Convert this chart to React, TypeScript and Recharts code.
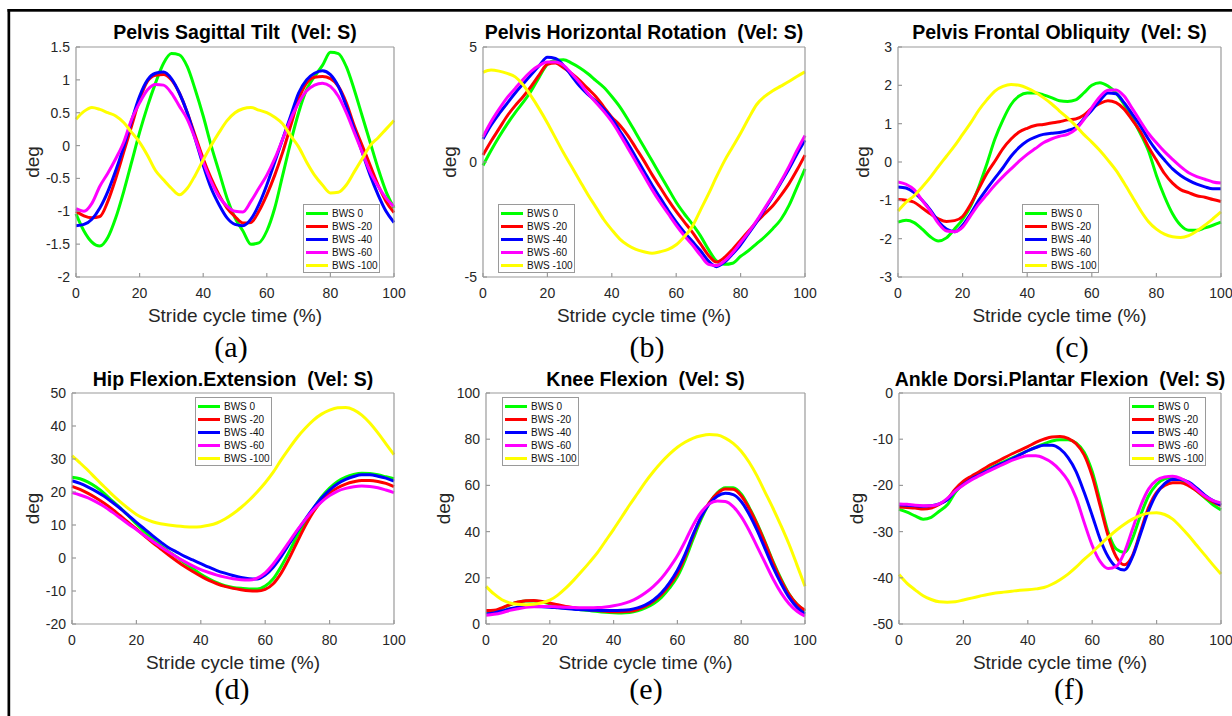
import React from 'react';
import { LineChart, Line, XAxis, YAxis, Legend } from 'recharts';

const X = [0,2.5,5,7.5,10,12.5,15,17.5,20,22.5,25,27.5,30,32.5,35,37.5,40,42.5,45,47.5,50,52.5,55,57.5,60,62.5,65,67.5,70,72.5,75,77.5,80,82.5,85,87.5,90,92.5,95,97.5,100];
const X_TICKS = [0, 20, 40, 60, 80, 100];
const SERIES_NAMES = ['BWS 0', 'BWS -20', 'BWS -40', 'BWS -60', 'BWS -100'];
const SERIES_COLORS = ['#00ff00', '#ff0000', '#0000ff', '#ff00ff', '#ffff00'];

// (a) Pelvis Sagittal Tilt
const tiltTicks = [-2, -1.5, -1, -0.5, 0, 0.5, 1, 1.5];
const tilt0 = [-1.04,-1.3,-1.47,-1.53,-1.4,-1.1,-0.7,-0.25,0.2,0.6,0.95,1.25,1.4,1.38,1.2,0.85,0.45,0.0,-0.4,-0.8,-1.1,-1.3,-1.5,-1.48,-1.3,-0.95,-0.45,0.05,0.5,0.85,1.05,1.22,1.42,1.4,1.2,0.85,0.45,0.05,-0.35,-0.7,-0.95];
const tilt20 = [-1.0,-1.07,-1.1,-1.08,-0.85,-0.5,-0.1,0.3,0.7,0.98,1.07,1.08,1.0,0.8,0.5,0.15,-0.2,-0.5,-0.75,-0.95,-1.08,-1.18,-1.17,-1.0,-0.75,-0.45,-0.1,0.3,0.7,0.95,1.04,1.05,1.02,0.9,0.65,0.3,0.0,-0.3,-0.6,-0.85,-1.02];
const tilt40 = [-1.22,-1.2,-1.12,-0.95,-0.7,-0.38,-0.02,0.38,0.75,1.0,1.1,1.12,1.02,0.8,0.5,0.1,-0.3,-0.65,-0.9,-1.1,-1.2,-1.22,-1.12,-0.9,-0.6,-0.25,0.1,0.45,0.8,1.0,1.1,1.14,1.08,0.9,0.6,0.25,-0.1,-0.45,-0.75,-1.0,-1.17];
const tilt60 = [-0.96,-1.0,-0.88,-0.62,-0.42,-0.2,0.05,0.4,0.65,0.85,0.93,0.92,0.8,0.6,0.4,0.1,-0.25,-0.55,-0.78,-0.92,-1.0,-1.01,-0.85,-0.65,-0.45,-0.2,0.1,0.4,0.65,0.83,0.92,0.95,0.9,0.75,0.5,0.2,-0.1,-0.4,-0.62,-0.8,-0.93];
const tilt100 = [0.4,0.52,0.58,0.55,0.5,0.45,0.35,0.2,0.05,-0.15,-0.38,-0.52,-0.65,-0.75,-0.65,-0.45,-0.22,0.0,0.2,0.38,0.5,0.56,0.58,0.54,0.5,0.43,0.33,0.15,-0.02,-0.25,-0.45,-0.6,-0.72,-0.71,-0.6,-0.4,-0.2,0.0,0.12,0.25,0.38];

// (b) Pelvis Horizontal Rotation
const rotTicks = [-5, 0, 5];
const rot0 = [-0.15,0.5,1.1,1.65,2.15,2.6,3.1,3.7,4.25,4.42,4.45,4.3,4.1,3.85,3.55,3.25,2.85,2.4,1.85,1.25,0.65,0.05,-0.55,-1.15,-1.75,-2.25,-2.7,-3.2,-3.8,-4.3,-4.45,-4.4,-4.1,-3.85,-3.55,-3.25,-2.9,-2.5,-1.9,-1.1,-0.3];
const rot20 = [0.3,0.9,1.45,2.0,2.45,2.85,3.3,3.8,4.25,4.3,4.1,3.85,3.55,3.2,2.85,2.4,1.95,1.6,1.15,0.6,0.05,-0.55,-1.1,-1.65,-2.15,-2.6,-3.05,-3.55,-4.05,-4.35,-4.15,-3.8,-3.4,-3.0,-2.6,-2.25,-1.9,-1.45,-0.95,-0.35,0.3];
const rot40 = [1.0,1.6,2.1,2.55,3.0,3.4,3.8,4.2,4.55,4.5,4.2,3.75,3.3,2.95,2.65,2.3,1.9,1.35,0.8,0.2,-0.4,-1.0,-1.55,-2.1,-2.6,-3.05,-3.45,-3.85,-4.3,-4.55,-4.35,-4.0,-3.6,-3.1,-2.6,-2.05,-1.5,-0.9,-0.3,0.35,0.95];
const rot60 = [1.1,1.75,2.3,2.8,3.2,3.6,3.95,4.2,4.35,4.35,4.2,3.85,3.45,3.0,2.6,2.2,1.75,1.2,0.6,0.0,-0.6,-1.2,-1.75,-2.25,-2.75,-3.2,-3.6,-4.05,-4.45,-4.5,-4.3,-3.95,-3.5,-3.05,-2.55,-2.0,-1.45,-0.85,-0.2,0.5,1.15];
const rot100 = [3.9,4.0,3.95,3.85,3.7,3.35,2.85,2.3,1.7,1.05,0.4,-0.2,-0.8,-1.4,-1.95,-2.5,-2.95,-3.35,-3.62,-3.8,-3.9,-3.97,-3.9,-3.8,-3.6,-3.25,-2.8,-2.1,-1.4,-0.65,0.05,0.65,1.25,1.9,2.5,2.85,3.1,3.3,3.5,3.72,3.92];

// (c) Pelvis Frontal Obliquity
const oblTicks = [-3, -2, -1, 0, 1, 2, 3];
const obl0 = [-1.57,-1.52,-1.58,-1.75,-1.95,-2.06,-1.98,-1.75,-1.5,-1.15,-0.65,-0.05,0.6,1.1,1.5,1.72,1.8,1.8,1.75,1.68,1.6,1.58,1.62,1.8,2.0,2.07,1.98,1.8,1.5,1.15,0.75,0.3,-0.35,-0.9,-1.35,-1.65,-1.78,-1.78,-1.72,-1.65,-1.57];
const obl20 = [-0.98,-1.0,-1.05,-1.2,-1.35,-1.48,-1.55,-1.53,-1.42,-1.1,-0.7,-0.3,0.02,0.35,0.6,0.78,0.88,0.95,0.98,1.02,1.05,1.1,1.12,1.22,1.4,1.53,1.6,1.55,1.38,1.1,0.8,0.4,0.05,-0.3,-0.55,-0.72,-0.8,-0.88,-0.92,-0.98,-1.03];
const obl40 = [-0.65,-0.68,-0.8,-1.0,-1.25,-1.55,-1.75,-1.82,-1.65,-1.35,-1.0,-0.7,-0.42,-0.15,0.15,0.38,0.55,0.65,0.72,0.75,0.77,0.82,0.9,1.12,1.35,1.6,1.8,1.78,1.55,1.25,0.95,0.6,0.3,0.05,-0.18,-0.35,-0.48,-0.58,-0.65,-0.7,-0.7];
const obl60 = [-0.52,-0.58,-0.72,-1.0,-1.28,-1.6,-1.8,-1.82,-1.7,-1.4,-1.1,-0.85,-0.6,-0.38,-0.18,0.02,0.2,0.35,0.5,0.6,0.67,0.72,0.85,1.1,1.42,1.7,1.87,1.88,1.72,1.4,1.07,0.75,0.5,0.27,0.07,-0.12,-0.28,-0.38,-0.45,-0.52,-0.55];
const obl100 = [-1.28,-1.05,-0.88,-0.65,-0.4,-0.12,0.15,0.42,0.72,1.02,1.35,1.62,1.85,1.97,2.02,2.0,1.93,1.82,1.68,1.52,1.33,1.15,0.95,0.72,0.52,0.3,0.05,-0.22,-0.55,-0.9,-1.25,-1.55,-1.75,-1.88,-1.95,-1.97,-1.92,-1.8,-1.65,-1.48,-1.3];

// (d) Hip Flexion.Extension
const hipTicks = [-20, -10, 0, 10, 20, 30, 40, 50];
const hip0 = [24.5,24,23,21.5,19.6,17.3,15.2,12.8,10.3,8,5.8,3.8,2,0.3,-1.5,-3.2,-4.9,-6.3,-7.5,-8.4,-8.9,-9.2,-9.4,-9.4,-8.5,-6.3,-2.5,2,6.8,11,15,18.5,21.2,23.2,24.5,25.3,25.7,25.6,25.2,24.6,24];
const hip20 = [21.7,20.8,19.6,18.2,16.6,14.8,12.8,10.8,8.8,6.7,4.7,2.8,0.9,-0.9,-2.6,-4.1,-5.5,-6.8,-7.8,-8.6,-9.2,-9.6,-9.9,-10,-9.5,-7.8,-4.5,0,5,9.8,14,17.3,19.7,21.3,22.4,23.1,23.5,23.5,23.2,22.6,21.6];
const hip40 = [23.4,22.6,21.5,20.2,18.7,16.9,15,12.9,10.8,8.8,6.8,4.9,3.1,1.8,0.5,-0.6,-1.7,-2.8,-3.8,-4.6,-5.3,-5.9,-6.3,-6.4,-5.2,-2.8,0.5,4.3,8.2,11.8,15.2,18.2,20.6,22.5,23.8,24.7,25.2,25.2,24.8,24.2,23.3];
const hip60 = [19.8,19.1,18.2,17,15.6,13.9,12.1,10.3,8.6,6.8,5.1,3.4,1.8,0.3,-1.1,-2.4,-3.5,-4.4,-5.2,-5.8,-6.3,-6.6,-6.7,-6.1,-4.5,-1.8,1.5,5,8.5,11.7,14.6,17,18.9,20.3,21.1,21.6,21.8,21.7,21.3,20.6,19.8];
const hip100 = [31,28.8,26.5,24,21.6,19.2,17,15,13.2,11.9,11,10.4,10,9.7,9.5,9.4,9.5,9.9,10.6,11.8,13.4,15.3,17.5,20,22.8,26,29.8,33.3,36.6,39.4,41.8,43.6,44.8,45.5,45.6,44.9,43.3,40.9,37.9,34.6,31.3];

// (e) Knee Flexion
const kneeTicks = [0, 20, 40, 60, 80, 100];
const knee0 = [4.8,5.5,6.8,8.3,9.4,10,10,9.5,8.8,7.9,7.2,6.6,6.2,5.8,5.4,5.1,4.9,4.8,5.0,5.7,7.0,8.8,11.5,15.5,20.5,28,37,45.5,52.3,56.8,59,59,56.3,50.5,43.5,35.5,27,19.5,13,8.5,5.5];
const knee20 = [5.8,5.9,7.0,8.4,9.5,10.1,10.2,9.8,9.1,8.3,7.6,7.1,6.6,6.2,5.8,5.5,5.3,5.3,5.5,6.3,7.7,9.8,12.8,16.8,22,29.5,38.5,46.5,52.5,56.5,58.4,58.3,55.5,50,43,35,26.5,19,12.8,8.5,5.9];
const knee40 = [4.3,4.8,5.6,6.6,7.3,7.6,7.6,7.5,7.3,7.0,6.7,6.4,6.2,6.0,5.9,5.8,5.8,5.9,6.2,7.0,8.3,10.4,13.5,17.8,23.3,30.5,39,46.5,52,55.3,56.6,56,53,47.5,40.5,32.5,24.5,17.5,11.5,7.2,4.3];
const knee60 = [3.8,4.2,4.9,5.9,6.6,7.2,7.5,7.6,7.6,7.4,7.2,7.1,7.0,7.0,7.1,7.4,7.9,8.6,9.7,11.3,13.5,16.3,19.8,24.3,29.5,36,43,48.5,52,53.2,53,50.8,46.5,40.5,33.5,26.5,19.5,13.5,8.8,5.5,3.4];
const knee100 = [16.3,13,10.5,9.1,8.5,8.3,8.5,9.2,10.3,12.5,15.5,19,22.8,26.8,31,36,41,46.2,51.5,56.5,61.5,66,70,73.5,76.5,78.8,80.5,81.5,82,81.8,80.5,78.2,74.8,70,64,57,50,42.5,34.5,25.5,16.3];

// (f) Ankle Dorsi.Plantar Flexion
const ankleTicks = [-50, -40, -30, -20, -10, 0];
const ankle0 = [-25.2,-25.8,-26.6,-27.3,-26.9,-25.6,-24.2,-21.5,-19.6,-18.4,-17.4,-16.5,-15.7,-14.9,-14.1,-13.3,-12.5,-11.7,-11.0,-10.4,-10.1,-10.1,-10.8,-12.8,-17.0,-23.5,-30.2,-33.8,-34.5,-31.5,-26.5,-22.3,-19.8,-18.6,-18.3,-18.8,-19.8,-21.2,-22.7,-24.2,-25.3];
const ankle20 = [-24.7,-24.8,-24.9,-25.1,-24.9,-24.1,-23,-20.8,-19.1,-18,-17,-15.9,-15,-14.1,-13.2,-12.4,-11.6,-10.7,-10,-9.5,-9.4,-9.8,-11,-13.4,-18,-24.5,-31,-35.5,-37.2,-35.2,-30,-24.8,-21.5,-20.0,-19.4,-19.4,-20.1,-21.2,-22.5,-23.6,-24.4];
const ankle40 = [-24.2,-24.3,-24.4,-24.5,-24.4,-24,-23.1,-21.2,-19.8,-18.6,-17.7,-16.8,-15.9,-15.1,-14.3,-13.4,-12.5,-11.8,-11.3,-11.3,-12.1,-14,-17,-21.5,-26.5,-31.7,-35.5,-37.7,-38.3,-35.5,-30.5,-25.5,-21.8,-19.6,-18.7,-18.7,-19.3,-20.6,-22.1,-23.3,-24.2];
const ankle60 = [-24,-24.1,-24.3,-24.4,-24.4,-24,-22.8,-21.2,-19.9,-18.8,-17.9,-17,-16.2,-15.4,-14.6,-14,-13.6,-13.6,-14.1,-15.1,-16.7,-19,-22.7,-28,-33,-36.5,-38,-37.5,-34.5,-29.5,-24.5,-20.8,-18.9,-18.2,-18.0,-18.5,-19.5,-20.9,-22.3,-23.3,-23.8];
const ankle100 = [-39.3,-41.2,-42.6,-43.9,-44.7,-45.2,-45.3,-45.2,-44.8,-44.4,-44,-43.6,-43.3,-43.1,-42.9,-42.7,-42.6,-42.4,-42.1,-41.4,-40.4,-39.2,-37.7,-36,-34.5,-32.8,-31.2,-29.7,-28.4,-27.3,-26.5,-26,-25.9,-26.3,-27.3,-29,-30.9,-33,-35.1,-37.2,-39.2];

const FONT = "'Liberation Sans', Arial, Helvetica, sans-serif";
const SERIF = "'Liberation Serif', 'Times New Roman', serif";
const AXIS_GRAY = '#9a9a9a';
const TXT = '#262626';

type PanelDef = {
  title: string; caption: string;
  L: number; R: number; T: number; B: number;
  yDomain: [number, number]; yTicks: number[];
  series: number[][];
  legendX: number; legendY: number;
  ylabelX: number; captionX: number;
};

const PANELS: PanelDef[] = [
  { title: 'Pelvis Sagittal Tilt  (Vel: S)', caption: '(a)', L: 76, R: 394, T: 47, B: 277, yDomain: [-2, 1.5], yTicks: tiltTicks,
    series: [tilt0, tilt20, tilt40, tilt60, tilt100], legendX: 227, legendY: 157, ylabelX: 38.5, captionX: 231 },
  { title: 'Pelvis Horizontal Rotation  (Vel: S)', caption: '(b)', L: 483, R: 805, T: 47, B: 277, yDomain: [-5, 5], yTicks: rotTicks,
    series: [rot0, rot20, rot40, rot60, rot100], legendX: 15, legendY: 157, ylabelX: 456, captionX: 647 },
  { title: 'Pelvis Frontal Obliquity  (Vel: S)', caption: '(c)', L: 898, R: 1221, T: 47, B: 277, yDomain: [-3, 3], yTicks: oblTicks,
    series: [obl0, obl20, obl40, obl60, obl100], legendX: 124, legendY: 157, ylabelX: 869, captionX: 1072 },
  { title: 'Hip Flexion.Extension  (Vel: S)', caption: '(d)', L: 72, R: 394, T: 393, B: 624, yDomain: [-20, 50], yTicks: hipTicks,
    series: [hip0, hip20, hip40, hip60, hip100], legendX: 123, legendY: 4, ylabelX: 39, captionX: 232 },
  { title: 'Knee Flexion  (Vel: S)', caption: '(e)', L: 486, R: 805, T: 393, B: 624, yDomain: [0, 100], yTicks: kneeTicks,
    series: [knee0, knee20, knee40, knee60, knee100], legendX: 16, legendY: 4, ylabelX: 450, captionX: 646 },
  { title: 'Ankle Dorsi.Plantar Flexion  (Vel: S)', caption: '(f)', L: 899, R: 1221, T: 393, B: 624, yDomain: [-50, 0], yTicks: ankleTicks,
    series: [ankle0, ankle20, ankle40, ankle60, ankle100], legendX: 230, legendY: 4, ylabelX: 863, captionX: 1069 },
];

const LegendBox = () => (
  <div style={{ position: 'relative', width: 77, height: 69, border: `1px solid ${AXIS_GRAY}`, background: '#fff', boxSizing: 'border-box' }}>
    {SERIES_NAMES.map((name, i) => (
      <div key={name} style={{ position: 'absolute', left: 2, top: 1.5 + i * 13.2, height: 13, display: 'flex', alignItems: 'center', whiteSpace: 'nowrap' }}>
        <div style={{ width: 22, height: 3, background: SERIES_COLORS[i] }} />
        <span style={{ marginLeft: 4, fontSize: 10, lineHeight: '13px', color: '#111', fontFamily: FONT }}>{name}</span>
      </div>
    ))}
  </div>
);

const Panel = ({ p }: { p: PanelDef }) => {
  const data = X.map((x, i) => {
    const row: Record<string, number> = { x };
    p.series.forEach((s, k) => { row['s' + k] = s[i]; });
    return row;
  });
  const W = p.R - p.L + 80;
  const H = p.B - p.T + 40;
  const axisLine = { stroke: AXIS_GRAY, strokeWidth: 1.2 };
  const tickStyle = { fill: TXT, fontSize: 14, fontFamily: FONT };
  return (
    <div style={{ position: 'absolute', left: p.L - 60, top: p.T - 10, width: W, height: H }}>
      <LineChart width={W} height={H} data={data} margin={{ top: 9, right: 19, bottom: 0, left: 0 }}>
        <XAxis dataKey="x" type="number" domain={[0, 100]} ticks={X_TICKS} interval={0} height={30}
          tickSize={-4} tickMargin={15} axisLine={axisLine} tickLine={axisLine} tick={tickStyle} />
        <XAxis xAxisId="top" orientation="top" dataKey="x" type="number" domain={[0, 100]} ticks={X_TICKS} interval={0} height={1}
          tickSize={-4} axisLine={axisLine} tickLine={axisLine} tick={false} />
        <YAxis type="number" domain={p.yDomain} ticks={p.yTicks} interval={0} width={60}
          tickSize={-4} tickMargin={10} axisLine={axisLine} tickLine={axisLine} tick={tickStyle} />
        <YAxis yAxisId="right" orientation="right" type="number" domain={p.yDomain} ticks={p.yTicks} interval={0} width={1}
          tickSize={-4} axisLine={axisLine} tickLine={axisLine} tick={false} />
        {p.series.map((_, k) => (
          <Line key={k} dataKey={'s' + k} name={SERIES_NAMES[k]} type="monotone" stroke={SERIES_COLORS[k]}
            strokeWidth={3} dot={false} activeDot={false} isAnimationActive={false} strokeLinejoin="round" />
        ))}
        <Legend layout="horizontal" verticalAlign="middle" align="center" content={() => <LegendBox />}
          wrapperStyle={{ left: 60 + p.legendX, top: 10 + p.legendY, width: 77, height: 69 }} />
      </LineChart>
    </div>
  );
};

export default function App() {
  return (
    <div style={{ position: 'absolute', left: 0, top: 0, width: 1232, height: 716, background: '#fff', overflow: 'hidden', fontFamily: FONT }}>
      <svg width={1232} height={716} style={{ position: 'absolute', left: 0, top: 0 }}>
        <rect x={7.5} y={9} width={2.7} height={707} fill="#000" />
        <rect x={7.5} y={9} width={1224.5} height={2.7} fill="#000" />
        {PANELS.map((p, i) => {
          const top = i < 3;
          const cx = (p.L + p.R) / 2;
          const cy = (p.T + p.B) / 2;
          return (
            <g key={i}>
              <text x={cx} y={top ? 38.5 : 386} textAnchor="middle" fontFamily={FONT} fontWeight="bold" fontSize={19.5} fill="#000" style={{ whiteSpace: 'pre' }}>{p.title}</text>
              <text x={cx} y={top ? 321.5 : 669} textAnchor="middle" fontFamily={FONT} fontSize={19} fill={TXT}>Stride cycle time (%)</text>
              <text transform={`translate(${p.ylabelX},${cy}) rotate(-90)`} textAnchor="middle" fontFamily={FONT} fontSize={19} fill={TXT}>deg</text>
              <text x={p.captionX} y={top ? 357 : 699} textAnchor="middle" fontFamily={SERIF} fontSize={30} fill="#000">{p.caption}</text>
            </g>
          );
        })}
      </svg>
      {PANELS.map((p, i) => <Panel key={i} p={p} />)}
    </div>
  );
}
